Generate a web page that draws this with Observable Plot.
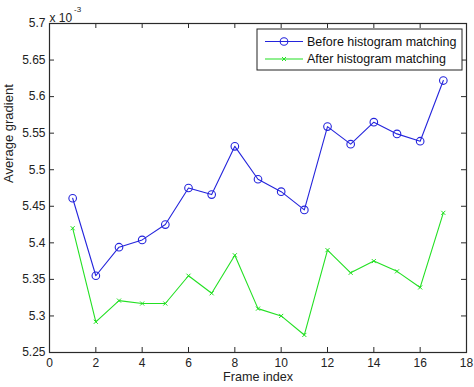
<!DOCTYPE html>
<html>
<head>
<meta charset="utf-8">
<script src="https://cdn.jsdelivr.net/npm/d3@7"></script>
<script src="https://cdn.jsdelivr.net/npm/@observablehq/plot@0.6"></script>
<style>
  body { margin: 0; background: #fff; }
  #chart { width: 474px; height: 387px; }
</style>
</head>
<body>
<div id="chart"></div>
<script>
const frames = [1,2,3,4,5,6,7,8,9,10,11,12,13,14,15,16,17];
const before = [5.461,5.355,5.394,5.404,5.425,5.475,5.466,5.532,5.487,5.470,5.445,5.559,5.535,5.565,5.549,5.539,5.622];
const after  = [5.420,5.292,5.321,5.317,5.317,5.355,5.331,5.383,5.310,5.300,5.274,5.390,5.359,5.375,5.361,5.339,5.441];
const seriesNames = ["Before histogram matching", "After histogram matching"];
const seriesColors = ["#2424dc", "#22e022"];
const xTicks = [0,2,4,6,8,10,12,14,16,18];
const yTicks = [5.25,5.3,5.35,5.4,5.45,5.5,5.55,5.6,5.65,5.7];
const xLabel = "Frame index";
const yLabel = "Average gradient";
const exponentText = ["x 10", "-3"];

const W = 474, H = 387;
const mL = 49, mR = 8, mT = 23, mB = 35;
const fw = W - mL - mR, fh = H - mT - mB;
const tick = 5;
const axisColor = "#2a2a2a";
const font = "Liberation Sans, Arial, Helvetica, sans-serif";

const rowsBefore = frames.map((f, i) => ({x: f, y: before[i]}));
const rowsAfter = frames.map((f, i) => ({x: f, y: after[i]}));
const fmt = d => String(+d.toFixed(2));

const chart = Plot.plot({
  width: W, height: H,
  marginLeft: mL, marginRight: mR, marginTop: mT, marginBottom: mB,
  style: {fontFamily: font, fontSize: "12px", color: "#222", background: "#fff"},
  x: {domain: [0, 18], ticks: xTicks},
  y: {domain: [5.25, 5.7], ticks: yTicks},
  marks: [
    Plot.axisX({ticks: xTicks, tickSize: 0, tickPadding: 6, fontSize: 12, label: null, tickFormat: d => String(d)}),
    Plot.axisY({ticks: yTicks, tickSize: 0, tickPadding: 4, fontSize: 12, label: null, tickFormat: fmt}),
    // inward ticks on all four sides
    Plot.ruleX(xTicks, {x: d => d, insetTop: fh - tick, stroke: axisColor}),
    Plot.ruleX(xTicks, {x: d => d, insetBottom: fh - tick, stroke: axisColor}),
    Plot.ruleY(yTicks, {y: d => d, insetRight: fw - tick, stroke: axisColor}),
    Plot.ruleY(yTicks, {y: d => d, insetLeft: fw - tick, stroke: axisColor}),
    Plot.line(rowsBefore, {x: "x", y: "y", stroke: seriesColors[0], strokeWidth: 1.1}),
    Plot.dot(rowsBefore, {x: "x", y: "y", stroke: seriesColors[0], r: 3.8, strokeWidth: 1.1}),
    Plot.line(rowsAfter, {x: "x", y: "y", stroke: seriesColors[1], strokeWidth: 1.1}),
    Plot.dot(rowsAfter, {x: "x", y: "y", stroke: seriesColors[1], symbol: "times", r: 2, strokeWidth: 1}),
    Plot.frame({stroke: axisColor, strokeWidth: 1.2}),
    Plot.text([xLabel], {text: d => d, frameAnchor: "bottom", dy: 28, fontSize: 12.6, fill: "#222"}),
    Plot.text([yLabel], {text: d => d, frameAnchor: "left", dx: -41, dy: -5, rotate: -90, fontSize: 13, fill: "#222"}),
    Plot.text([exponentText[0]], {text: d => d, frameAnchor: "top-left", dx: 0, dy: -10, textAnchor: "start", fontSize: 12, fill: "#222"}),
    Plot.text([exponentText[1]], {text: d => d, frameAnchor: "top-left", dx: 24.5, dy: -17, textAnchor: "start", fontSize: 8, fill: "#222"})
  ]
});

// legend box drawn inside the axes (top-right)
const svg = d3.select(chart.tagName.toLowerCase() === "svg" ? chart : chart.querySelector("svg"));
const lg = svg.append("g").attr("font-family", font).attr("font-size", "12.5px").attr("text-anchor", "start");
const bx = 257, by = 29, bw = 205, bh = 41;
lg.append("rect").attr("x", bx).attr("y", by).attr("width", bw).attr("height", bh)
  .attr("fill", "#fff").attr("stroke", "#222").attr("stroke-width", 1);
seriesNames.forEach((name, i) => {
  const cy = by + 12.5 + i * 17.5;
  lg.append("line").attr("x1", bx + 8).attr("x2", bx + 46).attr("y1", cy).attr("y2", cy)
    .attr("stroke", seriesColors[i]).attr("stroke-width", 1.1);
  if (i === 0) {
    lg.append("circle").attr("cx", bx + 27).attr("cy", cy).attr("r", 3.8)
      .attr("fill", "none").attr("stroke", seriesColors[i]).attr("stroke-width", 1.1);
  } else {
    const s = 2;
    lg.append("path").attr("d", `M${bx+27-s},${cy-s}L${bx+27+s},${cy+s}M${bx+27-s},${cy+s}L${bx+27+s},${cy-s}`)
      .attr("stroke", seriesColors[i]).attr("stroke-width", 1);
  }
  lg.append("text").attr("x", bx + 50).attr("y", cy).attr("dy", "0.35em")
    .attr("text-anchor", "start").attr("fill", "#111").text(name);
});

document.getElementById("chart").appendChild(chart);
</script>
</body>
</html>
